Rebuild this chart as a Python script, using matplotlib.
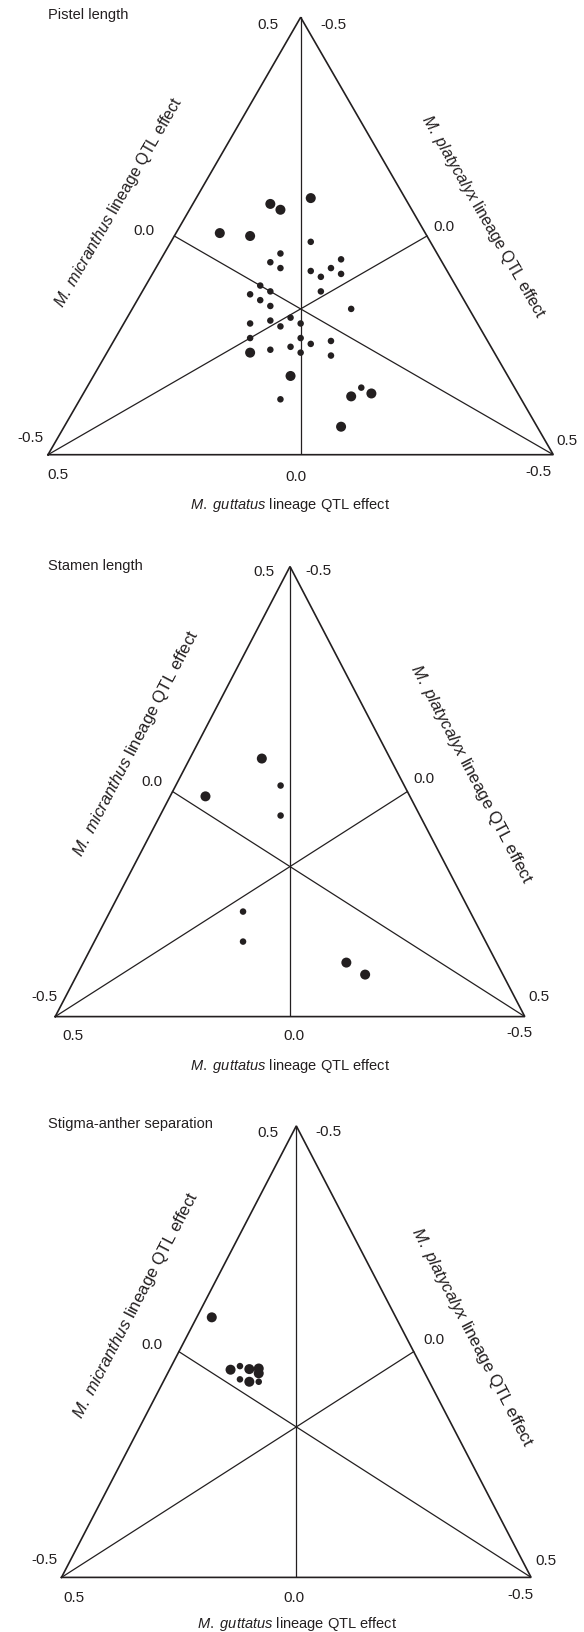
import matplotlib.pyplot as plt

plt.rcParams['font.family'] = ['Liberation Sans', 'DejaVu Sans']
plt.rcParams['mathtext.fontset'] = 'custom'
plt.rcParams['mathtext.rm'] = 'Liberation Sans'
plt.rcParams['mathtext.it'] = 'Liberation Sans:italic'

W, H = 584, 1633
INK = '#231f20'

# QTL effects per lineage: guttatus (g) and micranthus (m); platycalyx = -(g + m)
# large = 1 for the big dots, 0 for the small ones
pistel_g = [-0.02, 0.06, 0.04, 0.16, 0.10, -0.02, 0.04, 0.06, 0.04, -0.02,
            -0.08, -0.06, -0.04, -0.08, 0.08, 0.06, 0.10, -0.04, 0.08, 0.06,
            -0.10, 0.02, 0.10, 0.06, 0.04, 0.00, 0.10, 0.00, -0.02, -0.06,
            0.06, 0.02, 0.00, 0.10, -0.06, 0.02, -0.12, -0.10, -0.14, 0.04,
            -0.08]
pistel_m = [0.200, 0.150, 0.150, 0.050, 0.075, 0.125, 0.075, 0.050, 0.050, 0.075,
            0.125, 0.100, 0.075, 0.100, 0.000, 0.000, -0.025, 0.050, -0.025, -0.025,
            0.050, -0.025, -0.075, -0.050, -0.050, -0.025, -0.100, -0.050, -0.050, -0.025,
            -0.100, -0.075, -0.075, -0.125, -0.050, -0.125, -0.075, -0.100, -0.075, -0.175,
            -0.162]
pistel_large = [1, 1, 1, 1, 1, 0, 0, 0, 0, 0,
                0, 0, 0, 0, 0, 0, 0, 0, 0, 0,
                0, 0, 0, 0, 0, 0, 0, 0, 0, 0,
                0, 0, 0, 1, 0, 1, 0, 1, 1, 0,
                1]

stamen_g = [0.06, 0.18, 0.02, 0.02, 0.10, 0.10, -0.12, -0.16]
stamen_m = [0.150, 0.027, 0.125, 0.075, -0.125, -0.175, -0.100, -0.100]
stamen_large = [1, 1, 0, 0, 0, 0, 1, 1]

sas_g = [0.18, 0.14, 0.12, 0.10, 0.08, 0.08, 0.12, 0.10, 0.08]
sas_m = [0.092, 0.025, 0.041, 0.046, 0.057, 0.049, 0.019, 0.025, 0.035]
sas_large = [1, 1, 0, 1, 1, 1, 0, 1, 0]

mic_label = r'$\mathit{M.\ micranthus}$ lineage QTL effect'
pla_label = r'$\mathit{M.\ platycalyx}$ lineage QTL effect'
gut_label = r'$\mathit{M.\ guttatus}$ lineage QTL effect'

# panel layout in image pixels: left, right, apex y, base y
panels = [
    dict(title='Pistel length', g=pistel_g, m=pistel_m, large=pistel_large,
         box=(48, 553.3, 18.3, 455.7), ang=60, lab_fs=11.5,
         title_xy=(48, 15), mic_xy=(119, 202), pla_xy=(483, 217), gut_xy=(290, 505),
         ticks=[(278, 25, '0.5', 'right'), (320, 25, '-0.5', 'left'),
                (43, 438, '-0.5', 'right'), (57.5, 475, '0.5', 'center'),
                (296, 477, '0.0', 'center'), (556, 441, '0.5', 'left'),
                (538, 472, '-0.5', 'center'), (155, 231, '0.0', 'right'),
                (433, 227, '0.0', 'left')]),
    dict(title='Stamen length', g=stamen_g, m=stamen_m, large=stamen_large,
         box=(55.2, 524.8, 567.5, 1017.6), ang=62.4, lab_fs=12.2,
         title_xy=(48, 566), mic_xy=(136, 743), pla_xy=(471.5, 774), gut_xy=(290, 1066),
         ticks=[(274, 572, '0.5', 'right'), (305.6, 571, '-0.5', 'left'),
                (58, 997, '-0.5', 'right'), (73, 1036, '0.5', 'center'),
                (294, 1036, '0.0', 'center'), (528, 997, '0.5', 'left'),
                (519.5, 1033, '-0.5', 'center'), (163, 782, '0.0', 'right'),
                (413, 779, '0.0', 'left')]),
    dict(title='Stigma-anther separation', g=sas_g, m=sas_m, large=sas_large,
         box=(61.5, 531.1, 1126.9, 1578.4), ang=62.5, lab_fs=12.2,
         title_xy=(48, 1124), mic_xy=(136, 1305), pla_xy=(471.5, 1337), gut_xy=(297, 1624),
         ticks=[(279, 1133, '0.5', 'right'), (315, 1132, '-0.5', 'left'),
                (58, 1560, '-0.5', 'right'), (74, 1598, '0.5', 'center'),
                (294, 1598, '0.0', 'center'), (535, 1561, '0.5', 'left'),
                (520, 1595, '-0.5', 'center'), (163, 1345, '0.0', 'right'),
                (423, 1340, '0.0', 'left')]),
]


def px(x, y):
    return x / W, 1 - y / H


fig = plt.figure(figsize=(W / 100, H / 100), dpi=100)

for p in panels:
    left, right, top, base = p['box']
    ax = fig.add_axes([left / W, 1 - base / H, (right - left) / W, (base - top) / H])
    ax.set_xlim(-0.5, 0.5)
    ax.set_ylim(-1 / 3, 2 / 3)
    ax.axis('off')

    # outline and the three lines through the centre
    ax.plot([-0.5, 0, 0.5, -0.5], [-1 / 3, 2 / 3, -1 / 3, -1 / 3],
            color=INK, lw=1.2, clip_on=False, solid_joinstyle='miter')
    ax.plot([0, 0], [2 / 3, -1 / 3], color=INK, lw=0.9)
    ax.plot([-0.5, 0.25], [-1 / 3, 1 / 6], color=INK, lw=0.9)
    ax.plot([0.5, -0.25], [-1 / 3, 1 / 6], color=INK, lw=0.9)

    # ternary position from the guttatus / micranthus effects
    xs = [-g for g in p['g']]
    ys = [2 * g / 3 + 4 * m / 3 for g, m in zip(p['g'], p['m'])]
    sizes = [52 if big else 22 for big in p['large']]
    ax.scatter(xs, ys, s=sizes, color=INK, linewidths=0, zorder=3, clip_on=False)

    fig.text(*px(*p['title_xy']), p['title'], fontsize=10.5, color=INK,
             ha='left', va='center')
    for x, y, lab, ha in p['ticks']:
        fig.text(*px(x, y), lab, fontsize=11, color=INK, ha=ha, va='center')
    fig.text(*px(*p['mic_xy']), mic_label, fontsize=p['lab_fs'], color=INK,
             rotation=p['ang'], ha='center', va='center', rotation_mode='anchor')
    fig.text(*px(*p['pla_xy']), pla_label, fontsize=p['lab_fs'], color=INK,
             rotation=-p['ang'], ha='center', va='center', rotation_mode='anchor')
    fig.text(*px(*p['gut_xy']), gut_label, fontsize=10.5, color=INK,
             ha='center', va='center')

fig.savefig('out.png', dpi=100, facecolor='white')
